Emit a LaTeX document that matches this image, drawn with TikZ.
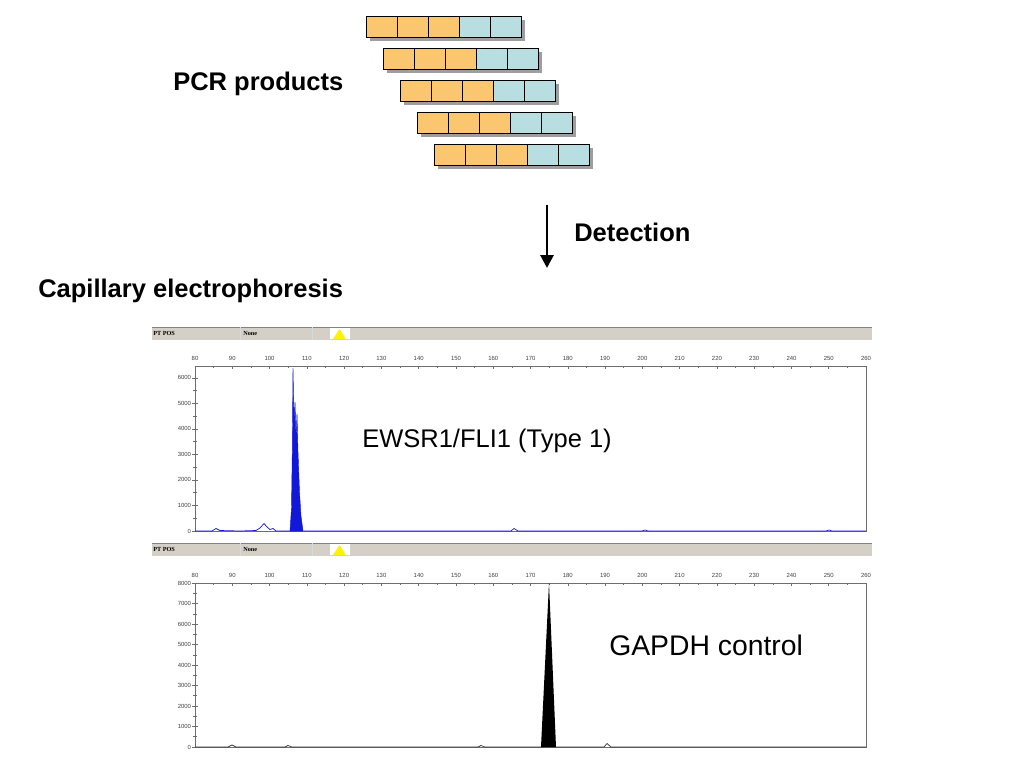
\documentclass[tikz,border=0pt]{standalone}
\usepackage{fontspec}
\setmainfont{Liberation Sans}
\newfontfamily\winfont{Liberation Serif}
\usetikzlibrary{arrows.meta}

\definecolor{pcrorange}{RGB}{250,199,112}
\definecolor{pcrblue}{RGB}{184,222,226}
\definecolor{wingray}{RGB}{212,208,200}
\definecolor{peakblue}{RGB}{18,24,215}
\definecolor{axisgray}{RGB}{110,110,110}

\newcommand{\bpx}[1]{195+(#1-80)*3.728}

\tikzset{
  bigbold/.style={font=\bfseries\fontsize{18}{21}\selectfont, inner sep=0pt},
  bigtext/.style={font=\fontsize{#1}{#1}\selectfont, inner sep=0pt},
  hdrtext/.style={font=\winfont\bfseries\fontsize{4.4}{5}\selectfont, inner sep=0pt, anchor=west},
  ticktext/.style={font=\fontsize{4.2}{5}\selectfont, text=black!75, inner sep=0.5pt},
  cellbox/.style={draw=black, line width=0.6pt}
}

\begin{document}
\begin{tikzpicture}[x=0.24805mm,y=-0.24805mm]
\useasboundingbox (0,0) rectangle (1024,768);

% PCR products
\foreach \r in {0,...,4} {
  \pgfmathsetmacro{\xa}{366+17*\r}
  \pgfmathsetmacro{\ya}{16+32*\r}
  \fill[black!38] (\xa+4,\ya+4) rectangle (\xa+159,\ya+25);
  \foreach \c/\col in {0/pcrorange,1/pcrorange,2/pcrorange,3/pcrblue,4/pcrblue} {
    \filldraw[cellbox, fill=\col] (\xa+31*\c,\ya) rectangle (\xa+31*\c+31,\ya+21);
  }
}
\node[bigbold, anchor=base west] (pcr) at (173,91) {PCR products};

% detection arrow
\coordinate (dtop) at (547,205);
\coordinate (dbot) at (547,268);
\draw[-{Triangle[length=9pt,width=9pt]}, line width=2pt] (dtop) -- (dbot);
\node[bigbold, anchor=base west] (detect) at (574,241) {Detection};
\node[bigbold, anchor=base west] (capel) at (38,297) {Capillary electrophoresis};

% upper trace
\fill[wingray] (152,327) rectangle (872,340);
\draw[gray] (152,327) -- (872,327);
\draw[white!70!gray] (240,327) -- (240,340) (312,327) -- (312,340);
\fill[white] (330,328) rectangle (350,339);
\fill[yellow] (333,339) -- (339.5,329) -- (346,339) -- cycle;
\node[hdrtext] (pos1) at (153,333.5) {PT POS};
\node[hdrtext] (name1) at (243,333.5) {None};

\draw[axisgray, line width=0.6pt] (195,531) -- (195,366) -- (866,366) -- (866,531) -- cycle;
\foreach \b in {80,90,...,260} {
  \draw[axisgray, line width=0.4pt] ({\bpx{\b}},366) -- ({\bpx{\b}},369);
  \node[ticktext, anchor=south] (ua\b) at ({\bpx{\b}},362) {\b};
}
\foreach \b in {85,95,...,255}
  \draw[axisgray, line width=0.4pt] ({\bpx{\b}},366) -- ({\bpx{\b}},368);
\foreach \v in {0,1000,...,6000} {
  \draw[axisgray, line width=0.4pt] (192,{531-\v*0.02553}) -- (198,{531-\v*0.02553});
  \node[ticktext, anchor=east] (ub\v) at (192,{531-\v*0.02553}) {\v};
}
\foreach \v in {500,1500,...,5500}
  \draw[axisgray, line width=0.4pt] (193,{531-\v*0.02553}) -- (197,{531-\v*0.02553});

\draw[peakblue, line width=0.5pt] (195,531) -- (212,531) -- (216,528.5) -- (220,530.5) -- (240,531)
  -- (256,530.5) -- (260,528) -- (264,523.5) -- (267,527) -- (270,529.5) -- (273,528.5) -- (276,531)
  -- (290,531) -- (303,531) -- (511,531) -- (514,528.5) -- (518,531) -- (642,531) -- (645,530) -- (648,531)
  -- (826,531) -- (829,530) -- (832,531) -- (866,531);
\filldraw[peakblue, line width=0.3pt] (290,531) -- (291.5,508) -- (292.3,450) -- (293,368) -- (294,420)
  -- (295,402) -- (296,438) -- (297,414) -- (298,452) -- (299.5,492) -- (301,516) -- (303,531) -- cycle;
\node[bigtext=18, anchor=base west] (ewsr) at (362,447) {EWSR1/FLI1 (Type 1)};

% lower trace
\fill[wingray] (152,543) rectangle (872,556);
\draw[gray] (152,543) -- (872,543);
\draw[white!70!gray] (240,543) -- (240,556) (312,543) -- (312,556);
\fill[white] (330,544) rectangle (350,555);
\fill[yellow] (333,555) -- (339.5,545) -- (346,555) -- cycle;
\node[hdrtext] (pos2) at (153,549.5) {PT POS};
\node[hdrtext] (name2) at (243,549.5) {None};

\draw[axisgray, line width=0.6pt] (195,747) -- (195,583) -- (866,583) -- (866,747) -- cycle;
\foreach \b in {80,90,...,260} {
  \draw[axisgray, line width=0.4pt] ({\bpx{\b}},583) -- ({\bpx{\b}},586);
  \node[ticktext, anchor=south] (la\b) at ({\bpx{\b}},579) {\b};
}
\foreach \b in {85,95,...,255}
  \draw[axisgray, line width=0.4pt] ({\bpx{\b}},583) -- ({\bpx{\b}},585);
\foreach \v in {0,1000,...,8000} {
  \draw[axisgray, line width=0.4pt] (192,{747-\v*0.0205}) -- (198,{747-\v*0.0205});
  \node[ticktext, anchor=east] (lb\v) at (192,{747-\v*0.0205}) {\v};
}
\foreach \v in {500,1500,...,7500}
  \draw[axisgray, line width=0.4pt] (193,{747-\v*0.0205}) -- (197,{747-\v*0.0205});

\draw[black!80, line width=0.5pt] (195,747) -- (228,747) -- (232,745) -- (236,747) -- (285,747)
  -- (288,745.5) -- (292,747) -- (478,747) -- (481,745.5) -- (485,747) -- (604,747) -- (607,743.5)
  -- (611,747) -- (866,747);
\fill[black] (541,747) -- (549,583) -- (556,747) -- cycle;
\node[bigtext=20, anchor=base west] (gapdh) at (609,655) {GAPDH control};
\end{tikzpicture}
\end{document}
